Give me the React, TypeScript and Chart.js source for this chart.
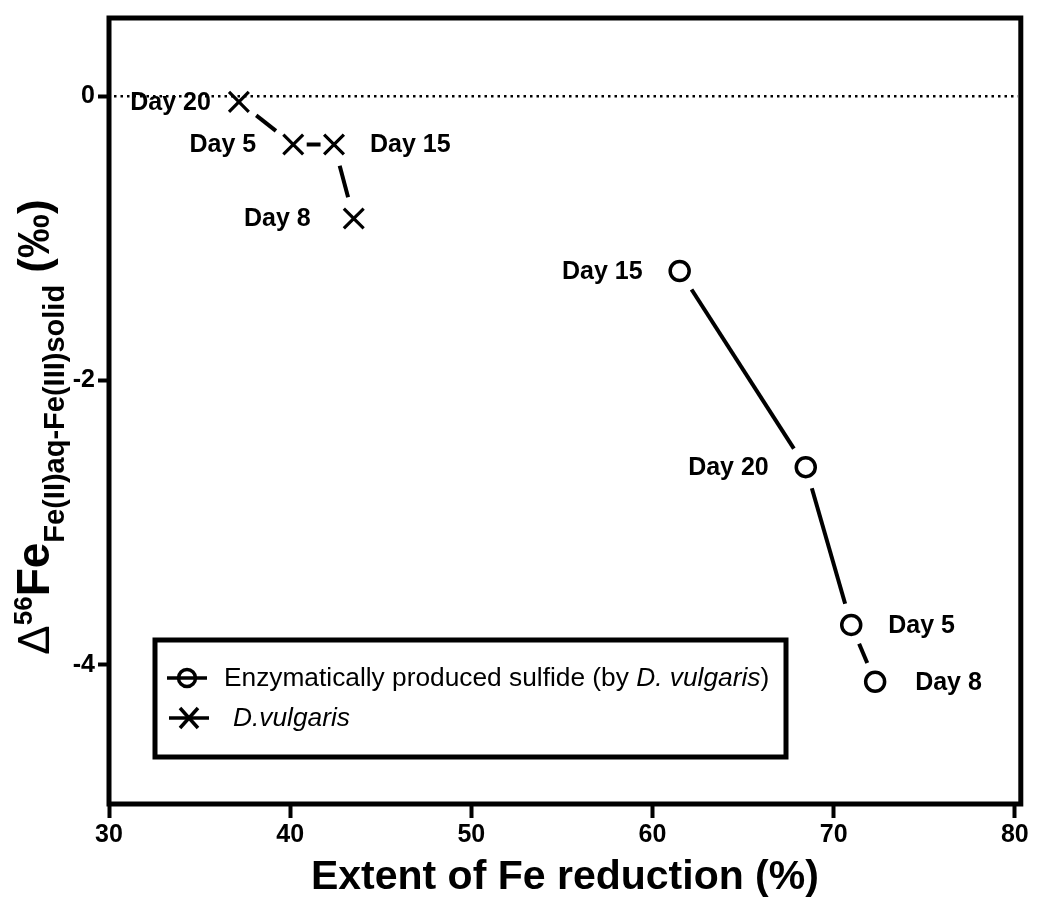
import React, { useEffect, useRef } from 'react';
import { Chart, registerables } from 'chart.js';

Chart.register(...registerables);

// Enzymatically produced sulfide series: extent of Fe reduction (%) and Δ56Fe (‰)
const enzDays = ['Day 15', 'Day 20', 'Day 5', 'Day 8'];
const enzReduction = [61.5, 68.46, 70.97, 72.29];
const enzDelta = [-1.23, -2.61, -3.72, -4.12];

// D. vulgaris series
const dvDays = ['Day 20', 'Day 5', 'Day 15', 'Day 8'];
const dvReduction = [37.17, 40.17, 42.42, 43.51];
const dvDelta = [-0.04, -0.34, -0.34, -0.86];

const xTicks = [30, 40, 50, 60, 70, 80];
const yTicks = [-4, -2, 0];

const xTitle = 'Extent of Fe reduction (%)';
const legendEntries = [
  [
    { t: 'Enzymatically produced sulfide (by ', i: false },
    { t: 'D. vulgaris', i: true },
    { t: ')', i: false },
  ],
  [{ t: 'D.vulgaris', i: true }],
];

const FONT = '"Liberation Sans", Arial, Helvetica, sans-serif';

// side of the marker each day label sits on, and its distance from the marker centre
const labelPlacement = {
  enz: { side: ['left', 'left', 'right', 'right'], gap: [37, 37, 37, 40] },
  dv: { side: ['left', 'left', 'right', 'left'], gap: [28, 37, 36, 43] },
};

const decorations = {
  id: 'decorations',
  beforeDatasetsDraw(chart: any) {
    const { ctx, chartArea: a, scales } = chart;
    const y0 = scales.y.getPixelForValue(0);
    ctx.save();
    // dotted zero line
    ctx.strokeStyle = '#000';
    ctx.lineWidth = 2.5;
    ctx.setLineDash([2.5, 4]);
    ctx.beginPath();
    ctx.moveTo(a.left + 5, y0);
    ctx.lineTo(a.right - 3, y0);
    ctx.stroke();
    ctx.setLineDash([]);
    // connecting segments, stopped short of each symbol
    ctx.lineWidth = 4;
    ctx.lineCap = 'butt';
    [0, 1].forEach((i) => {
      const pts = chart.getDatasetMeta(i).data;
      for (let k = 0; k < pts.length - 1; k++) {
        const p = pts[k];
        const q = pts[k + 1];
        const dx = q.x - p.x;
        const dy = q.y - p.y;
        const d = Math.hypot(dx, dy);
        const g = Math.min(22, d * 0.33);
        const ux = dx / d;
        const uy = dy / d;
        ctx.beginPath();
        ctx.moveTo(p.x + ux * g, p.y + uy * g);
        ctx.lineTo(q.x - ux * g, q.y - uy * g);
        ctx.stroke();
      }
    });
    ctx.restore();
  },
  afterDraw(chart: any) {
    const { ctx, chartArea: a } = chart;
    ctx.save();
    ctx.fillStyle = '#000';
    ctx.strokeStyle = '#000';

    // plot frame
    ctx.lineWidth = 5;
    ctx.strokeRect(a.left, a.top, a.right - a.left, a.bottom - a.top);

    // day labels
    ctx.font = `700 25px ${FONT}`;
    ctx.textBaseline = 'middle';
    const drawLabels = (meta: any, days: string[], place: any) => {
      meta.data.forEach((pt: any, k: number) => {
        const left = place.side[k] === 'left';
        ctx.textAlign = left ? 'right' : 'left';
        ctx.fillText(days[k], pt.x + (left ? -place.gap[k] : place.gap[k]), pt.y + 1);
      });
    };
    drawLabels(chart.getDatasetMeta(0), enzDays, labelPlacement.enz);
    drawLabels(chart.getDatasetMeta(1), dvDays, labelPlacement.dv);

    // x axis title
    ctx.font = `700 41px ${FONT}`;
    ctx.textAlign = 'center';
    ctx.textBaseline = 'alphabetic';
    ctx.fillText(xTitle, (a.left + a.right) / 2, 889);

    // y axis title: Δ56Fe with subscript, rotated
    const parts = [
      { t: '\u0394', f: `400 44px ${FONT}`, dy: 0 },
      { t: '56', f: `700 26px ${FONT}`, dy: -17 },
      { t: 'Fe', f: `700 46px ${FONT}`, dy: 0 },
      { t: 'Fe(II)aq-Fe(III)solid', f: `700 29px ${FONT}`, dy: 15 },
      { t: ' (\u2030)', f: `700 44px ${FONT}`, dy: 0 },
    ];
    let total = 0;
    const widths = parts.map((p) => {
      ctx.font = p.f;
      const w = ctx.measureText(p.t).width;
      total += w;
      return w;
    });
    ctx.translate(49, 427);
    ctx.rotate(-Math.PI / 2);
    ctx.textAlign = 'left';
    let cx = -total / 2;
    parts.forEach((p, k) => {
      ctx.font = p.f;
      ctx.fillText(p.t, cx, p.dy);
      cx += widths[k];
    });
    ctx.setTransform(1, 0, 0, 1, 0, 0);

    // legend box
    const lx = 155;
    const ly = 640;
    const lw = 631;
    const lh = 117;
    ctx.lineWidth = 5;
    ctx.strokeRect(lx, ly, lw, lh);
    const rows = [678, 718];
    ctx.lineWidth = 3.5;
    // circle entry
    ctx.beginPath();
    ctx.moveTo(167, rows[0]);
    ctx.lineTo(207, rows[0]);
    ctx.stroke();
    ctx.beginPath();
    ctx.arc(187, rows[0], 8.5, 0, Math.PI * 2);
    ctx.stroke();
    // cross entry
    ctx.beginPath();
    ctx.moveTo(169, rows[1]);
    ctx.lineTo(209, rows[1]);
    ctx.stroke();
    ctx.beginPath();
    ctx.moveTo(180, rows[1] - 10);
    ctx.lineTo(198, rows[1] + 10);
    ctx.moveTo(198, rows[1] - 10);
    ctx.lineTo(180, rows[1] + 10);
    ctx.stroke();
    // legend text
    ctx.textBaseline = 'middle';
    const starts = [224, 233];
    legendEntries.forEach((segs, r) => {
      let tx = starts[r];
      segs.forEach((s) => {
        ctx.font = `${s.i ? 'italic ' : ''}400 26.3px ${FONT}`;
        ctx.fillText(s.t, tx, rows[r] + 1);
        tx += ctx.measureText(s.t).width;
      });
    });
    ctx.restore();
  },
};

export default function App() {
  const ref = useRef<HTMLCanvasElement>(null);

  useEffect(() => {
    if (!ref.current) return;
    const tickFont = { family: FONT, size: 25, weight: 'bold' as const };
    const chart = new Chart(ref.current, {
      type: 'scatter',
      data: {
        datasets: [
          {
            label: 'Enzymatically produced sulfide (by D. vulgaris)',
            data: enzReduction.map((x, i) => ({ x, y: enzDelta[i] })),
            pointStyle: 'circle',
            pointRadius: 9.5,
            borderWidth: 3.5,
            borderColor: '#000',
            backgroundColor: '#fff',
            showLine: false,
          },
          {
            label: 'D.vulgaris',
            data: dvReduction.map((x, i) => ({ x, y: dvDelta[i] })),
            pointStyle: 'crossRot',
            pointRadius: 14,
            borderWidth: 3.2,
            borderColor: '#000',
            backgroundColor: '#000',
            showLine: false,
          },
          {
            label: 'centre',
            data: [{ x: enzReduction[0], y: enzDelta[0] }],
            pointStyle: 'circle',
            pointRadius: 2.5,
            borderWidth: 0,
            backgroundColor: '#000',
            showLine: false,
          },
        ],
      },
      options: {
        responsive: false,
        animation: false,
        devicePixelRatio: 1,
        layout: { padding: { top: 16, right: 9, left: 0, bottom: 0 } },
        plugins: {
          legend: { display: false },
          tooltip: { enabled: false },
        },
        scales: {
          x: {
            type: 'linear',
            min: 30,
            max: 80.33,
            afterBuildTicks: (axis: any) => {
              axis.ticks = xTicks.map((value) => ({ value }));
            },
            afterFit: (axis: any) => {
              axis.height = 96;
            },
            ticks: { font: tickFont, color: '#000', padding: 2 },
            grid: {
              drawOnChartArea: false,
              drawTicks: true,
              tickLength: 14,
              tickWidth: 4,
              tickColor: '#000',
              color: '#000',
            },
            border: { display: false },
          },
          y: {
            type: 'linear',
            min: -4.98,
            max: 0.55,
            afterBuildTicks: (axis: any) => {
              axis.ticks = yTicks.map((value) => ({ value }));
            },
            afterFit: (axis: any) => {
              axis.width = 109;
            },
            ticks: { font: tickFont, color: '#000', padding: 3 },
            grid: {
              drawOnChartArea: false,
              drawTicks: true,
              tickLength: 11,
              tickWidth: 4,
              tickColor: '#000',
              color: '#000',
            },
            border: { display: false },
          },
        },
      },
      plugins: [decorations],
    });
    return () => chart.destroy();
  }, []);

  return (
    <div style={{ position: 'absolute', left: 0, top: 0, width: 1038, height: 900, background: '#fff' }}>
      <canvas ref={ref} width={1038} height={900} style={{ display: 'block' }} />
    </div>
  );
}
